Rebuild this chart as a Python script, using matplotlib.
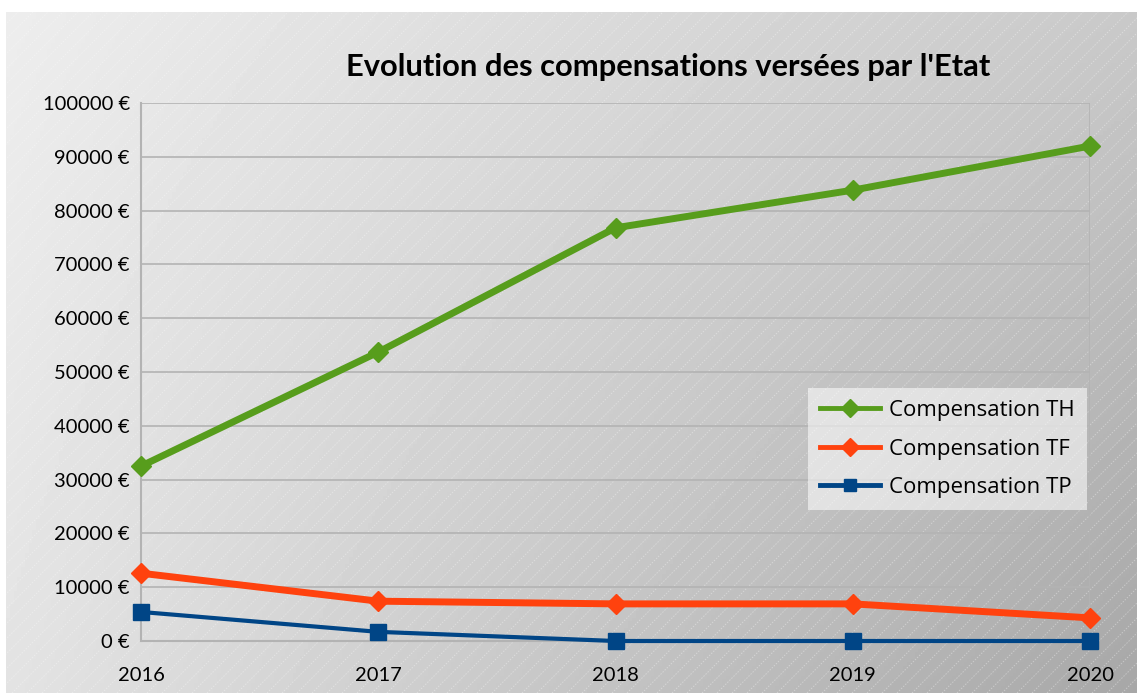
import numpy as np
import matplotlib
matplotlib.use("Agg")
import matplotlib.pyplot as plt
from matplotlib.ticker import FuncFormatter

# Data
years = [2016, 2017, 2018, 2019, 2020]
comp_th = [32500, 53700, 76800, 83800, 92000]
comp_tf = [12600, 7400, 6900, 6900, 4300]
comp_tp = [5400, 1700, 0, 0, 0]
y_ticks = list(range(0, 100001, 10000))

W, H = 1137, 693
plt.rcParams['font.family'] = ['Lato', 'DejaVu Sans']

fig = plt.figure(figsize=(W / 100, H / 100), dpi=100)
fig.patch.set_facecolor('white')

# Background panel: grey gradient with faint diagonal hatch
bx0, by1 = 6, 12
bg = fig.add_axes([bx0 / W, 0, 1 - bx0 / W, 1 - by1 / H])
bg.set_xlim(bx0, W)
bg.set_ylim(0, H - by1)
bg.axis('off')
u = np.linspace(0, 1, 300)
v = np.linspace(0, 1, 200)
U, V = np.meshgrid(u, v)  # V=0 at top
grad = 237 - 36 * U - 10 * V - 24 * U * V
grad = np.clip(grad / 255.0, 0, 1)
bg.imshow(grad, cmap='gray', vmin=0, vmax=1, extent=[bx0, W, 0, H - by1],
          aspect='auto', origin='upper', zorder=0)
for c in np.arange(-H, W + H, 15):
    xs = np.array([c, c + H])
    bg.plot(xs, xs - c, color='white', lw=0.7, alpha=0.35, ls=(0, (1.5, 1.5)), zorder=1)

# Plot area
ax = fig.add_axes([141 / W, 1 - 641 / H, (1090 - 141) / W, (641 - 103) / H])
ax.set_facecolor('none')
ax.set_xlim(2016, 2020)
ax.set_ylim(0, 100000)
ax.set_yticks(y_ticks)
ax.set_xticks(years)
ax.yaxis.set_major_formatter(FuncFormatter(lambda val, pos: f"{int(val)} €"))
ax.grid(True, axis='y', color='#b3b3b3', lw=1.2)
ax.axvline(2020, color='#b3b3b3', lw=1.2)
for s in ['top', 'right']:
    ax.spines[s].set_visible(False)
for s in ['left', 'bottom']:
    ax.spines[s].set_color('#b3b3b3')
    ax.spines[s].set_linewidth(1.5)
ax.tick_params(axis='both', length=0, labelsize=14.5, colors='black')
ax.tick_params(axis='y', pad=8)
ax.tick_params(axis='x', pad=19)

ax.plot(years, comp_th, color='#579d1c', lw=5, marker='D', ms=10,
        label='Compensation TH', clip_on=False, zorder=5)
ax.plot(years, comp_tf, color='#ff420e', lw=5, marker='D', ms=10,
        label='Compensation TF', clip_on=False, zorder=5)
ax.plot(years, comp_tp, color='#004586', lw=3, marker='s', ms=11,
        label='Compensation TP', clip_on=False, zorder=6)

leg = ax.legend(loc='upper left', bbox_to_anchor=((808 - 141) / (1090 - 141), (641 - 388) / (641 - 103)),
                prop={'family': 'Open Sans', 'size': 16}, frameon=True, fancybox=False,
                framealpha=0.55, edgecolor='none', facecolor='white', handlelength=2.7,
                labelspacing=0.78, borderpad=0.55, handletextpad=0.4, borderaxespad=0)
for h in leg.get_lines():
    h.set_linewidth(3.5)
    h.set_markersize(9)
leg.set_zorder(10)

fig.text(668 / W, 1 - 67 / H, "Evolution des compensations versées par l'Etat",
         ha='center', va='center', fontsize=22.2, fontweight='bold')

fig.savefig('out.png', dpi=100)
